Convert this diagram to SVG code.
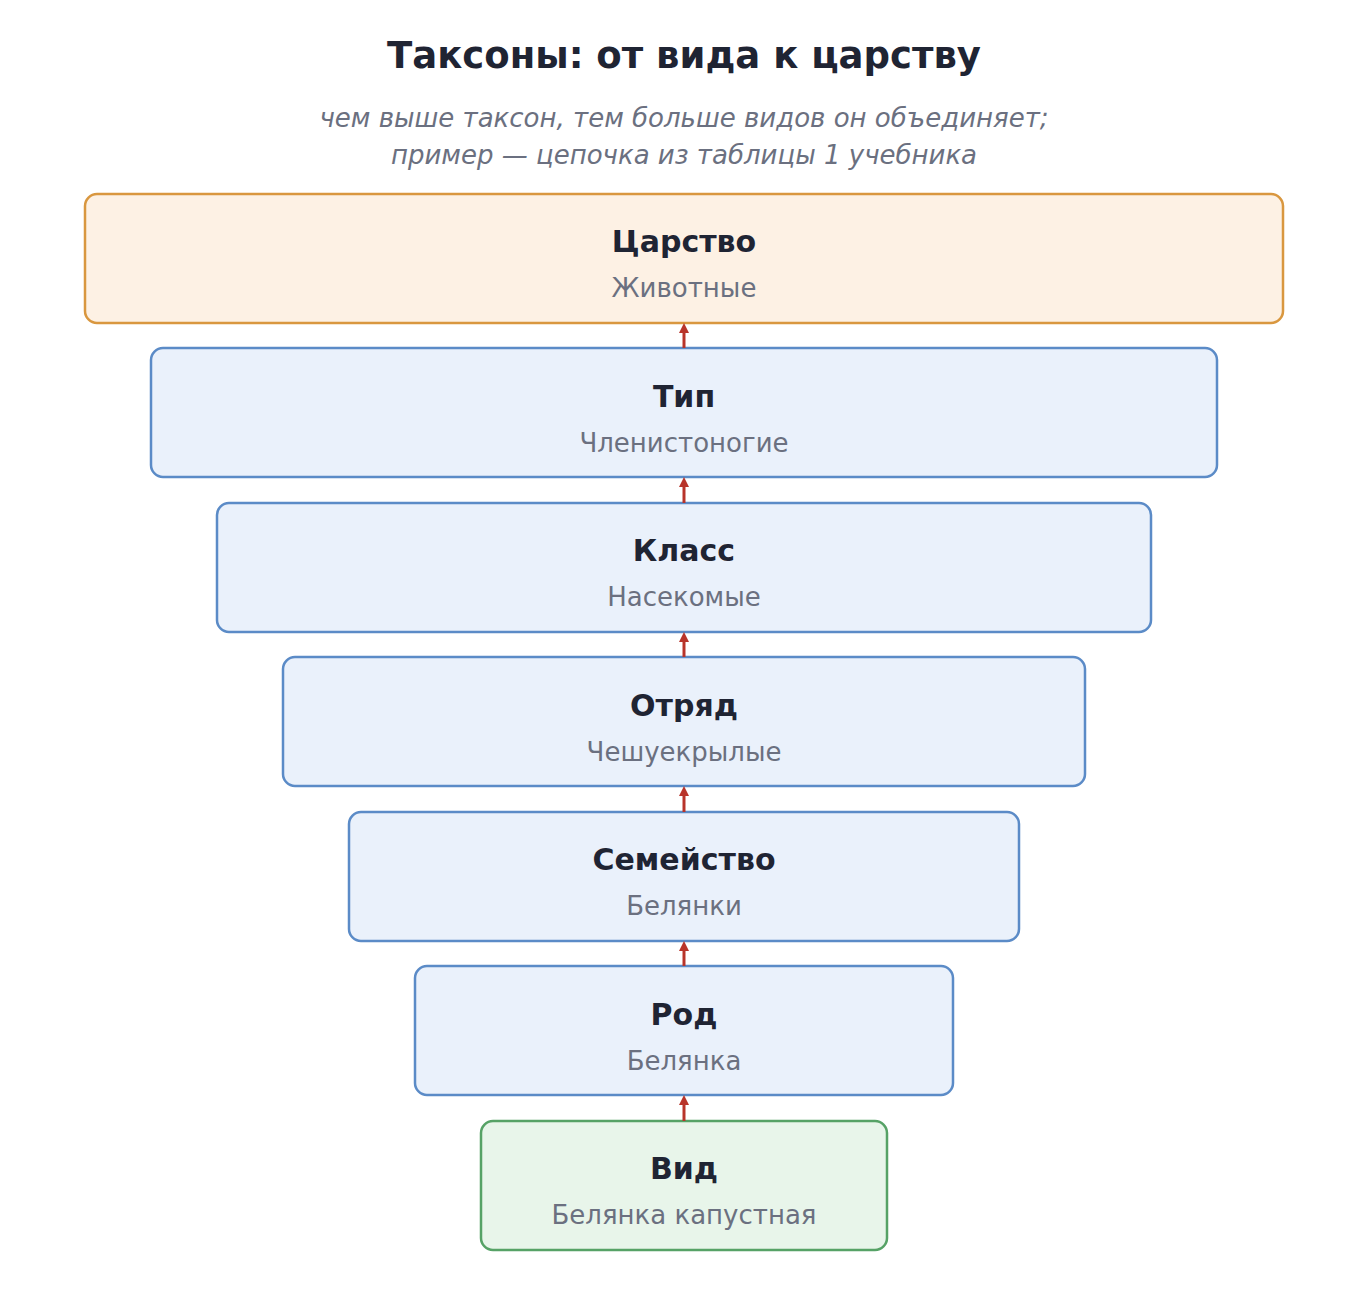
<svg xmlns="http://www.w3.org/2000/svg" width="1368" height="1308" viewBox="0 0 1368 1308">
<style>
.t{font-family:"DejaVu Sans",sans-serif;font-weight:bold;font-size:30px;fill:#1f2433;text-anchor:middle}
.s{font-family:"DejaVu Sans",sans-serif;font-size:26px;fill:#6b7080;text-anchor:middle}
.b{fill:#eaf1fb;stroke:#5b8bc7;stroke-width:2.5}
.c{stroke:#b8342a;stroke-width:3;fill:none;marker-end:url(#a)}
</style>
<defs><marker id="a" markerWidth="10" markerHeight="10" refX="5" refY="5" orient="auto" markerUnits="userSpaceOnUse"><path d="M0,0 L10,5 L0,10 z" fill="#b8342a" transform="translate(0,0)"/></marker></defs>
<rect width="1368" height="1308" fill="#fff"/>
<text x="684" y="68" style="font-family:'DejaVu Sans',sans-serif;font-weight:bold;font-size:37px;fill:#1f2433;text-anchor:middle">Таксоны: от вида к царству</text>
<text x="684" y="127" class="s" font-style="italic">чем выше таксон, тем больше видов он объединяет;</text>
<text x="684" y="164" class="s" font-style="italic">пример — цепочка из таблицы 1 учебника</text>
<g id="n1"><rect x="85" y="194" width="1198" height="129" rx="12" fill="#fdf1e4" stroke="#d9973f" stroke-width="2.5"/><text x="684" y="252" class="t">Царство</text><text x="684" y="297" class="s">Животные</text></g>
<g id="n2"><rect x="151" y="348" width="1066" height="129" rx="12" class="b"/><text x="684" y="407" class="t">Тип</text><text x="684" y="452" class="s">Членистоногие</text></g>
<g id="n3"><rect x="217" y="503" width="934" height="129" rx="12" class="b"/><text x="684" y="561" class="t">Класс</text><text x="684" y="606" class="s">Насекомые</text></g>
<g id="n4"><rect x="283" y="657" width="802" height="129" rx="12" class="b"/><text x="684" y="716" class="t">Отряд</text><text x="684" y="761" class="s">Чешуекрылые</text></g>
<g id="n5"><rect x="349" y="812" width="670" height="129" rx="12" class="b"/><text x="684" y="870" class="t">Семейство</text><text x="684" y="915" class="s">Белянки</text></g>
<g id="n6"><rect x="415" y="966" width="538" height="129" rx="12" class="b"/><text x="684" y="1025" class="t">Род</text><text x="684" y="1070" class="s">Белянка</text></g>
<g id="n7"><rect x="481" y="1121" width="406" height="129" rx="12" fill="#e8f5ea" stroke="#56a266" stroke-width="2.5"/><text x="684" y="1179" class="t">Вид</text><text x="684" y="1224" class="s">Белянка капустная</text></g>
<g id="edges">
<path class="c" d="M684,348 V328"/>
<path class="c" d="M684,503 V482"/>
<path class="c" d="M684,657 V637"/>
<path class="c" d="M684,812 V791"/>
<path class="c" d="M684,966 V946"/>
<path class="c" d="M684,1121 V1100"/>
</g>
</svg>
